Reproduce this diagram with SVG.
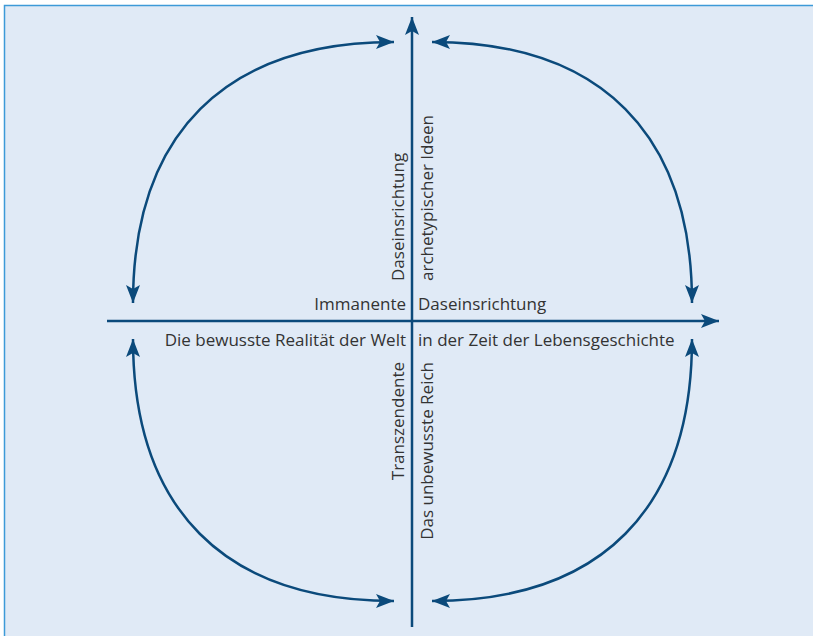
<svg xmlns="http://www.w3.org/2000/svg" width="813" height="636" viewBox="0 0 813 636">
<defs>
<style>
.bg{fill:#e0eaf6;stroke:#3d9ad8;stroke-width:1.5}
.ln{fill:none;stroke:#0b4a7b;stroke-width:2.5}
.tx{font-family:"Open Sans","Noto Sans",sans-serif;font-size:17px;fill:#333333}
</style>
<marker id="ah" viewBox="-20 -9 22 18" refX="0" refY="0" markerWidth="22" markerHeight="18" markerUnits="userSpaceOnUse" orient="auto-start-reverse">
<path d="M0,0 L-18,-7 L-14,0 L-18,7 Z" fill="#0b4a7b"/>
</marker>
</defs>
<rect class="bg" x="4.5" y="5.5" width="830" height="650"/>
<g id="connectors">
<path class="ln" d="M412,627 L412,17" marker-end="url(#ah)"/>
<path class="ln" d="M107,321 L719,321" marker-end="url(#ah)"/>
<path class="ln" d="M394,42 C225,42 133,134 133,303" marker-start="url(#ah)" marker-end="url(#ah)"/>
<path class="ln" d="M432,42 C601,42 692,134 692,303" marker-start="url(#ah)" marker-end="url(#ah)"/>
<path class="ln" d="M133,339 C133,509 224,601 394,601" marker-start="url(#ah)" marker-end="url(#ah)"/>
<path class="ln" d="M692,339 C692,509 601,601 432,601" marker-start="url(#ah)" marker-end="url(#ah)"/>
</g>
<g id="label-immanente"><text class="tx" x="406" y="310" text-anchor="end">Immanente</text></g>
<g id="label-daseinsrichtung-h"><text class="tx" x="418" y="310">Daseinsrichtung</text></g>
<g id="label-realitaet"><text class="tx" x="406" y="346" text-anchor="end">Die bewusste Realität der Welt</text></g>
<g id="label-zeit"><text class="tx" x="418" y="346">in der Zeit der Lebensgeschichte</text></g>
<g id="label-daseinsrichtung-v"><text class="tx" transform="translate(404,281) rotate(-90)">Daseinsrichtung</text></g>
<g id="label-archetypisch"><text class="tx" transform="translate(433,281) rotate(-90)">archetypischer Ideen</text></g>
<g id="label-transzendente"><text class="tx" transform="translate(404,362) rotate(-90)" text-anchor="end">Transzendente</text></g>
<g id="label-unbewusst"><text class="tx" transform="translate(433,362) rotate(-90)" text-anchor="end">Das unbewusste Reich</text></g>
</svg>
